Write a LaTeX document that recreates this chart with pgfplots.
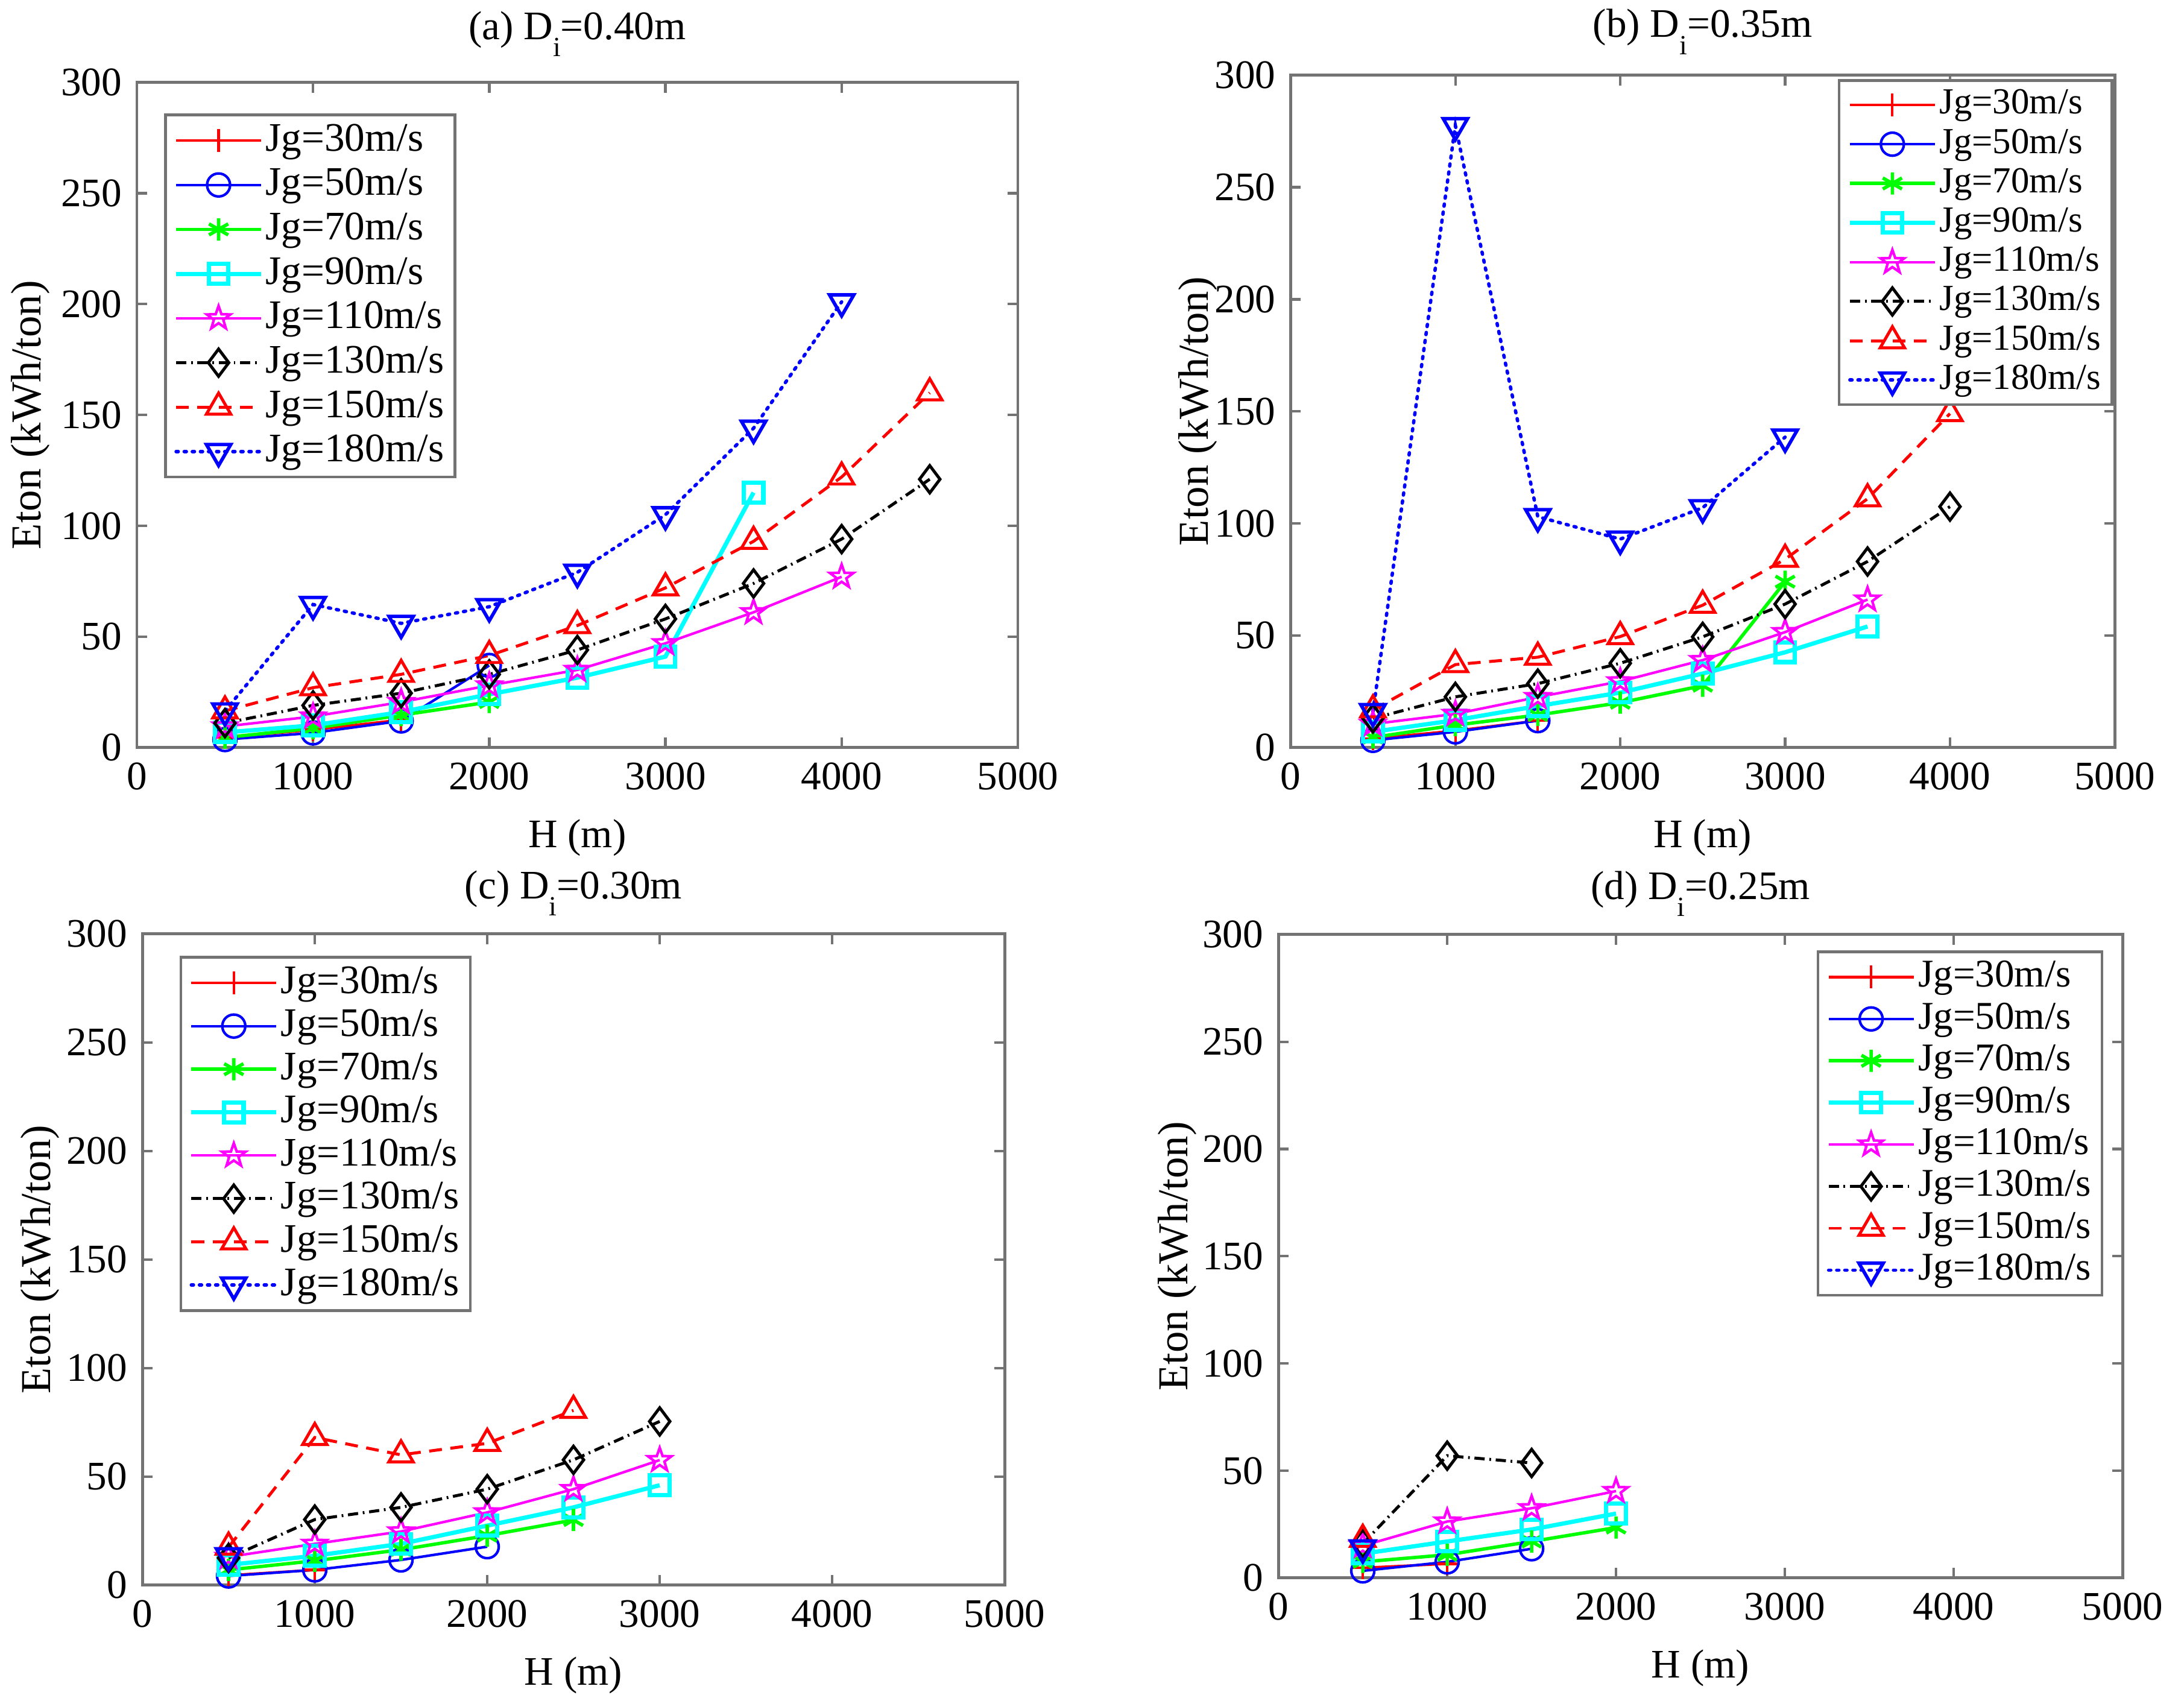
\documentclass[border=0pt]{standalone}
\usepackage{fontspec}
\setmainfont{Liberation Serif}
\usepackage{pgfplots}
\pgfplotsset{compat=1.18}
\usetikzlibrary{plotmarks}

\newcommand\fs{\fontsize{9.5}{11}\selectfont}
\newcommand\sub[1]{\raisebox{-4pt}{\fontsize{6.5}{7}\selectfont #1}}

% outlined five-point star, like the pentagram marker
\pgfdeclareplotmark{pstar}{%
  \pgfpathmoveto{\pgfpointpolar{90}{\pgfplotmarksize}}%
  \pgfpathlineto{\pgfpointpolar{126}{0.4\pgfplotmarksize}}%
  \pgfpathlineto{\pgfpointpolar{162}{\pgfplotmarksize}}%
  \pgfpathlineto{\pgfpointpolar{198}{0.4\pgfplotmarksize}}%
  \pgfpathlineto{\pgfpointpolar{234}{\pgfplotmarksize}}%
  \pgfpathlineto{\pgfpointpolar{270}{0.4\pgfplotmarksize}}%
  \pgfpathlineto{\pgfpointpolar{306}{\pgfplotmarksize}}%
  \pgfpathlineto{\pgfpointpolar{342}{0.4\pgfplotmarksize}}%
  \pgfpathlineto{\pgfpointpolar{18}{\pgfplotmarksize}}%
  \pgfpathlineto{\pgfpointpolar{54}{0.4\pgfplotmarksize}}%
  \pgfpathclose\pgfusepathqstroke}

\definecolor{mred}{rgb}{1,0,0}
\definecolor{mblue}{rgb}{0,0,1}
\definecolor{mgreen}{rgb}{0,1,0}
\definecolor{mcyan}{rgb}{0,1,1}
\definecolor{mmag}{rgb}{1,0,1}
\colorlet{axgray}{black!55}

\pgfplotsset{
  eton/.style={
    scale only axis,
    xmin=0, xmax=5000, ymin=0, ymax=300,
    xtick={0,1000,2000,3000,4000,5000},
    ytick={0,50,100,150,200,250,300},
    axis line style={draw=axgray, line width=0.7pt},
    every tick/.style={draw=axgray, line width=0.6pt},
    major tick length=2.4pt,
    tick label style={font=\fs},
    xlabel style={font=\fs},
    ylabel style={font=\fontsize{10}{12}\selectfont},
    /pgf/number format/assume math mode=true,
    /pgf/number format/set thousands separator={},
    xlabel={H (m)}, ylabel={Eton (kWh/ton)},
    title style={at={(0.5,1)}, anchor=base, font=\fs},
    legend cell align=left,
    legend style={draw=axgray, line width=0.6pt, font=\fs,
      nodes={inner sep=0.6pt}, row sep=1.1pt, inner xsep=2pt, inner ysep=1.5pt},
    legend image code/.code={\draw[mark repeat=2,mark phase=2,##1]
      plot coordinates {(0cm,0cm) (0.35cm,0cm) (0.7cm,0cm)};},
  },
  s30/.style={color=mred, line width=0.6pt, mark=+, mark size=2.7pt, mark options={solid}},
  s50/.style={color=mblue, line width=0.6pt, mark=o, mark size=2.7pt, mark options={solid}},
  s70/.style={color=mgreen, line width=0.8pt, mark=asterisk, mark size=2.6pt, mark options={solid}},
  s90/.style={color=mcyan, line width=1pt, mark=square, mark size=2.3pt, mark options={solid}},
  s110/.style={color=mmag, line width=0.6pt, mark=pstar, mark size=2.9pt, mark options={solid}},
  s130/.style={color=black, line width=0.7pt, dash pattern=on 2.4pt off 1.1pt on 0.4pt off 1.1pt,
    mark=diamond, mark size=3.2pt, mark options={solid}},
  s150/.style={color=mred, line width=0.7pt, dash pattern=on 3pt off 2pt,
    mark=triangle, mark size=3.3pt, mark options={solid}},
  s180/.style={color=mblue, line width=0.8pt, dash pattern=on 0.5pt off 1.4pt, line cap=round,
    mark=triangle, mark size=3.3pt, mark options={solid, rotate=180}},
}

\begin{document}
\begin{tikzpicture}
\path[use as bounding box] (0,0) rectangle (18cm,13.969cm);

% (a)
\begin{axis}[eton, at={(1.128cm,7.808cm)}, anchor=south west,
  width=7.261cm, height=5.482cm, title={(a) D\sub{i}=0.40m},
  title style={yshift=4.1pt}, ylabel style={yshift=-4.2pt},
  legend style={at={(0.031,0.953)}, anchor=north west, row sep=1.4pt}]
\addplot[s30] coordinates {(500,4.5) (1000,8) (1500,12.5)};
\addplot[s50] coordinates {(500,3.6) (1000,6.6) (1500,12) (2000,37)};
\addplot[s70] coordinates {(500,4.5) (1000,8.7) (1500,14.6) (2000,20.5)};
\addplot[s90] coordinates {(500,6.8) (1000,10) (1500,16) (2000,24) (2500,31.5) (3000,41) (3500,115)};
\addplot[s110] coordinates {(500,9.5) (1000,14) (1500,20.5) (2000,28) (2500,35) (3000,47) (3500,61) (4000,77)};
\addplot[s130] coordinates {(500,11) (1000,19) (1500,24.5) (2000,33) (2500,44) (3000,58) (3500,74) (4000,94) (4500,121)};
\addplot[s150] coordinates {(500,16.5) (1000,27) (1500,33) (2000,41.5) (2500,55) (3000,72) (3500,93) (4000,122) (4500,160)};
\addplot[s180] coordinates {(500,16.5) (1000,64.5) (1500,56) (2000,63.5) (2500,79) (3000,105) (3500,144) (4000,201)};
\legend{{Jg=30m/s},{Jg=50m/s},{Jg=70m/s},{Jg=90m/s},{Jg=110m/s},{Jg=130m/s},{Jg=150m/s},{Jg=180m/s}}
\end{axis}

% (b)
\begin{axis}[eton, at={(10.636cm,7.808cm)}, anchor=south west,
  width=6.794cm, height=5.541cm, title={(b) D\sub{i}=0.35m},
  title style={yshift=2.9pt}, ylabel style={yshift=-7.5pt},
  legend style={at={(0.998,0.994)}, anchor=north east, row sep=0.8pt,
    font=\fontsize{8.6}{10}\selectfont}]
\addplot[s30] coordinates {(500,4) (1000,7.5) (1500,12)};
\addplot[s50] coordinates {(500,3.2) (1000,7) (1500,12)};
\addplot[s70] coordinates {(500,4.5) (1000,10) (1500,14.5) (2000,20) (2500,27.6) (3000,74)};
\addplot[s90] coordinates {(500,7) (1000,12.2) (1500,18.5) (2000,24.5) (2500,33) (3000,42.5) (3500,54)};
\addplot[s110] coordinates {(500,10.5) (1000,15) (1500,22.5) (2000,29.5) (2500,39) (3000,51.5) (3500,66)};
\addplot[s130] coordinates {(500,13) (1000,22.6) (1500,28.5) (2000,37.6) (2500,49.4) (3000,64) (3500,83) (4000,107.5)};
\addplot[s150] coordinates {(500,16.8) (1000,37) (1500,40.3) (2000,49.5) (2500,63.5) (3000,84) (3500,111) (4000,149)};
\addplot[s180] coordinates {(500,16) (1000,277.5) (1500,103) (2000,93) (2500,107) (3000,138.5)};
\legend{{Jg=30m/s},{Jg=50m/s},{Jg=70m/s},{Jg=90m/s},{Jg=110m/s},{Jg=130m/s},{Jg=150m/s},{Jg=180m/s}}
\end{axis}

% (c)
\begin{axis}[eton, at={(1.173cm,0.905cm)}, anchor=south west,
  width=7.107cm, height=5.367cm, title={(c) D\sub{i}=0.30m},
  title style={yshift=2.3pt}, ylabel style={yshift=-5.2pt},
  legend style={at={(0.043,0.966)}, anchor=north west, row sep=1.1pt}]
\addplot[s30] coordinates {(500,4.5) (1000,7)};
\addplot[s50] coordinates {(500,4.2) (1000,7) (1500,11.6) (2000,17.7)};
\addplot[s70] coordinates {(500,7) (1000,11.2) (1500,16.3) (2000,22.8) (2500,30)};
\addplot[s90] coordinates {(500,9.3) (1000,13.5) (1500,19) (2000,27.4) (2500,35.8) (3000,46)};
\addplot[s110] coordinates {(500,13) (1000,19) (1500,24.7) (2000,33.5) (2500,44.2) (3000,57.6)};
\addplot[s130] coordinates {(500,12.5) (1000,30.2) (1500,35.8) (2000,44.2) (2500,57.7) (3000,75.4)};
\addplot[s150] coordinates {(500,17.5) (1000,68) (1500,60) (2000,65.3) (2500,80.5)};
\addplot[s180] coordinates {(500,13.5)};
\legend{{Jg=30m/s},{Jg=50m/s},{Jg=70m/s},{Jg=90m/s},{Jg=110m/s},{Jg=130m/s},{Jg=150m/s},{Jg=180m/s}}
\end{axis}

% (d)
\begin{axis}[eton, at={(10.536cm,0.964cm)}, anchor=south west,
  width=6.958cm, height=5.303cm, title={(d) D\sub{i}=0.25m},
  title style={yshift=2.3pt}, ylabel style={yshift=-5.5pt},
  legend style={at={(0.977,0.975)}, anchor=north east, row sep=1.0pt,
    font=\fontsize{9.2}{10.5}\selectfont}]
\addplot[s30] coordinates {(500,4.7) (1000,6.6)};
\addplot[s50] coordinates {(500,3.3) (1000,7.5) (1500,13.6)};
\addplot[s70] coordinates {(500,7.5) (1000,10.8) (1500,17) (2000,23.5)};
\addplot[s90] coordinates {(500,11.3) (1000,17) (1500,22.6) (2000,30)};
\addplot[s110] coordinates {(500,15) (1000,26.3) (1500,32.5) (2000,40.5)};
\addplot[s130] coordinates {(500,16) (1000,57) (1500,53.6)};
\addplot[s150] coordinates {(500,18)};
\addplot[s180] coordinates {(500,14)};
\legend{{Jg=30m/s},{Jg=50m/s},{Jg=70m/s},{Jg=90m/s},{Jg=110m/s},{Jg=130m/s},{Jg=150m/s},{Jg=180m/s}}
\end{axis}
\end{tikzpicture}
\end{document}
